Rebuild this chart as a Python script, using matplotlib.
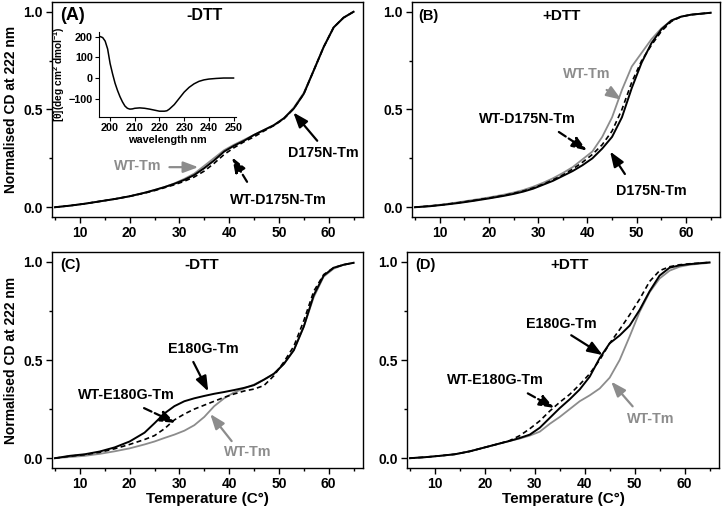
import numpy as np
import matplotlib
matplotlib.use('Agg')
import matplotlib.pyplot as plt
from matplotlib.ticker import MultipleLocator

plt.rcParams['font.family'] = ['Liberation Sans', 'DejaVu Sans']
plt.rcParams['font.weight'] = 'bold'
plt.rcParams['mathtext.fontset'] = 'custom'
plt.rcParams['mathtext.rm'] = 'Liberation Sans:bold'
plt.rcParams['mathtext.it'] = 'Liberation Sans'
plt.rcParams['mathtext.bf'] = 'Liberation Sans:bold'

GRAY = '#8c8c8c'

# temperature grid (C)
temp = [5, 8, 11, 14, 17, 20, 23, 25, 27, 29, 31, 33, 35, 37, 39, 41, 43, 45,
        47, 49, 51, 53, 55, 57, 59, 61, 63, 65]

# (A) -DTT
a_d175n = [0.0, 0.008, 0.018, 0.03, 0.042, 0.056, 0.074, 0.088, 0.103, 0.12, 0.14, 0.165,
           0.2, 0.24, 0.285, 0.315, 0.34, 0.37, 0.395, 0.42, 0.455, 0.505, 0.58, 0.7,
           0.82, 0.92, 0.97, 1.0]
a_wt = [0.0, 0.008, 0.018, 0.03, 0.042, 0.056, 0.074, 0.088, 0.103, 0.122, 0.145, 0.172,
        0.212, 0.252, 0.292, 0.32, 0.345, 0.37, 0.395, 0.42, 0.455, 0.51, 0.585, 0.7,
        0.82, 0.92, 0.97, 1.0]
a_mix = [0.0, 0.008, 0.018, 0.03, 0.042, 0.056, 0.072, 0.085, 0.1, 0.115, 0.133, 0.155,
         0.185, 0.225, 0.27, 0.305, 0.335, 0.36, 0.39, 0.418, 0.452, 0.505, 0.58, 0.7,
         0.82, 0.92, 0.97, 1.0]

# (B) +DTT
b_d175n = [0.0, 0.005, 0.013, 0.022, 0.033, 0.045, 0.058, 0.068, 0.08, 0.095, 0.115, 0.135,
           0.16, 0.185, 0.215, 0.25, 0.3, 0.36, 0.46, 0.61, 0.74, 0.84, 0.91, 0.955,
           0.975, 0.985, 0.99, 0.995]
b_wt = [0.0, 0.007, 0.015, 0.026, 0.038, 0.05, 0.064, 0.075, 0.088, 0.105, 0.125, 0.148,
        0.175, 0.205, 0.245, 0.285, 0.36, 0.46, 0.6, 0.72, 0.79, 0.86, 0.915, 0.955,
        0.975, 0.985, 0.99, 0.995]
b_mix = [0.0, 0.006, 0.014, 0.024, 0.035, 0.047, 0.06, 0.071, 0.083, 0.099, 0.118, 0.14,
         0.165, 0.195, 0.23, 0.27, 0.32, 0.39, 0.5, 0.64, 0.75, 0.83, 0.9, 0.95,
         0.975, 0.985, 0.99, 0.995]

# (C) -DTT
c_e180g = [0.0, 0.012, 0.02, 0.034, 0.055, 0.085, 0.13, 0.178, 0.228, 0.265, 0.29, 0.305,
           0.317, 0.328, 0.337, 0.347, 0.358, 0.372, 0.4, 0.43, 0.48, 0.55, 0.67, 0.83,
           0.93, 0.97, 0.985, 0.995]
c_wt = [0.0, 0.006, 0.012, 0.022, 0.035, 0.05, 0.07, 0.085, 0.103, 0.12, 0.14, 0.168,
        0.21, 0.265, 0.305, 0.335, 0.355, 0.375, 0.4, 0.43, 0.48, 0.55, 0.67, 0.82,
        0.925, 0.965, 0.985, 0.995]
c_mix = [0.0, 0.01, 0.018, 0.03, 0.048, 0.07, 0.095, 0.115, 0.15, 0.195, 0.225, 0.25,
         0.27, 0.29, 0.31, 0.327, 0.342, 0.352, 0.37, 0.42, 0.49, 0.57, 0.7, 0.85,
         0.935, 0.97, 0.985, 0.995]

# (D) +DTT
d_e180g = [0.0, 0.005, 0.012, 0.02, 0.035, 0.055, 0.075, 0.088, 0.103, 0.12, 0.155, 0.205,
           0.255, 0.3, 0.35, 0.415, 0.51, 0.585, 0.625, 0.675, 0.755, 0.85, 0.93, 0.97,
           0.982, 0.988, 0.993, 0.997]
d_wt = [0.0, 0.005, 0.012, 0.02, 0.035, 0.055, 0.075, 0.088, 0.1, 0.115, 0.135, 0.175,
        0.21, 0.25, 0.29, 0.32, 0.355, 0.41, 0.5, 0.62, 0.745, 0.845, 0.915, 0.955,
        0.975, 0.985, 0.99, 0.995]
d_mix = [0.0, 0.005, 0.012, 0.02, 0.035, 0.055, 0.075, 0.09, 0.115, 0.15, 0.19, 0.24,
         0.285, 0.325, 0.375, 0.43, 0.5, 0.585, 0.655, 0.73, 0.81, 0.9, 0.955, 0.975,
         0.985, 0.99, 0.993, 0.997]

# inset: far-UV CD spectrum
wl = [195, 196, 197, 198, 199, 200, 201, 202, 203, 204, 205, 206, 207, 208, 209, 210,
      212, 214, 216, 218, 220, 222, 223, 224, 226, 228, 230, 232, 234, 236, 238, 240,
      243, 246, 250]
theta = [200, 200, 195, 178, 140, 70, 20, -25, -60, -90, -115, -135, -146, -150, -149,
         -146, -144, -146, -150, -155, -160, -160, -158, -150, -128, -98, -68, -45, -28,
         -16, -9, -5, -2, 0, 0]


def style_axes(ax, ylabel=True, xlabel=False):
    ax.set_xlim(4.4, 66.9)
    ax.set_ylim(-0.05, 1.05)
    ax.xaxis.set_major_locator(MultipleLocator(10))
    ax.xaxis.set_minor_locator(MultipleLocator(5))
    ax.yaxis.set_major_locator(MultipleLocator(0.5))
    ax.yaxis.set_minor_locator(MultipleLocator(0.25))
    ax.tick_params(which='major', direction='out', length=4, width=1, labelsize=10, pad=2.5)
    ax.tick_params(which='minor', direction='out', length=2.5, width=1)
    ax.xaxis.set_ticklabels([''] + ['10', '20', '30', '40', '50', '60'] + [''])
    for lab in ax.get_xticklabels() + ax.get_yticklabels():
        lab.set_fontweight('bold')
    for s in ax.spines.values():
        s.set_linewidth(1.0)
    if ylabel:
        ax.set_ylabel('Normalised CD at 222 nm', fontsize=10, fontweight='bold', labelpad=4)
    if xlabel:
        ax.set_xlabel('Temperature (C°)', fontsize=11, fontweight='bold', labelpad=1)


def curves(ax, wt, mut, mix):
    ax.plot(temp, wt, color=GRAY, lw=1.3)
    ax.plot(temp, mut, color='black', lw=1.4)
    ax.plot(temp, mix, color='black', lw=1.2, linestyle=(0, (3, 2)))


def arrow(ax, tail, tip, color='black', dashed=False):
    ax.annotate('', xy=tip, xytext=tail,
                arrowprops=dict(arrowstyle='-|>,head_length=0.75,head_width=0.28',
                                color=color, lw=1.6,
                                linestyle='--' if dashed else '-',
                                mutation_scale=12, shrinkA=0, shrinkB=0))


def label(ax, x, y, s, color='black'):
    ax.text(x, y, s, color=color, fontsize=10.3, fontweight='bold', ha='center', va='center')


fig = plt.figure(figsize=(7.23, 5.11), dpi=100)
W, H = 723.0, 511.0
axA = fig.add_axes([52 / W, 1 - 217 / H, 311 / W, 215 / H])
axB = fig.add_axes([412 / W, 1 - 217 / H, 308 / W, 215 / H])
axC = fig.add_axes([52 / W, 1 - 468 / H, 311 / W, 216 / H])
axD = fig.add_axes([407 / W, 1 - 468 / H, 312 / W, 216 / H])

# (A)
curves(axA, a_wt, a_d175n, a_mix)
style_axes(axA)
axA.text(0.025, 0.935, '(A)', transform=axA.transAxes, fontsize=13, fontweight='bold',
         va='center')
axA.text(0.49, 0.935, '-DTT', transform=axA.transAxes, fontsize=11.5, fontweight='bold',
         ha='center', va='center')
label(axA, 21.7, 0.21, 'WT-Tm', GRAY)
arrow(axA, (28.0, 0.205), (33.8, 0.205), color=GRAY)
label(axA, 49.8, 0.035, 'WT-D175N-Tm')
arrow(axA, (43.6, 0.13), (40.6, 0.255), dashed=True)
label(axA, 58.9, 0.275, 'D175N-Tm')
arrow(axA, (57.7, 0.34), (52.9, 0.485))

# inset
axi = fig.add_axes([99 / W, 1 - 117 / H, 137 / W, 85 / H])
axi.plot(wl, theta, color='black', lw=1.1)
axi.set_xlim(195.5, 251)
axi.set_ylim(-188, 222)
axi.spines['top'].set_visible(False)
axi.spines['right'].set_visible(False)
axi.patch.set_alpha(0)
axi.set_xticks([200, 210, 220, 230, 240, 250])
axi.set_yticks([-100, 0, 100, 200])
axi.tick_params(direction='out', length=3, labelsize=7.8, pad=1.5)
for lab in axi.get_xticklabels() + axi.get_yticklabels():
    lab.set_fontweight('bold')
axi.set_xlabel('wavelength nm', fontsize=7.8, fontweight='bold', labelpad=1)
axi.set_ylabel(r'[$\theta$](deg cm$^2$ dmol$^{-1}$)', fontsize=7.3, fontweight='bold',
               labelpad=1)

# (B)
curves(axB, b_wt, b_d175n, b_mix)
style_axes(axB, ylabel=False)
axB.text(0.02, 0.935, '(B)', transform=axB.transAxes, fontsize=10.5, fontweight='bold',
         va='center')
axB.text(0.487, 0.935, '+DTT', transform=axB.transAxes, fontsize=11, fontweight='bold',
         ha='center', va='center')
label(axB, 39.9, 0.68, 'WT-Tm', GRAY)
arrow(axB, (43.9, 0.60), (46.9, 0.55), color=GRAY)
label(axB, 27.8, 0.45, 'WT-D175N-Tm')
arrow(axB, (34.2, 0.385), (39.9, 0.29), dashed=True)
label(axB, 53.0, 0.085, 'D175N-Tm')
arrow(axB, (47.6, 0.17), (44.6, 0.285))

# (C)
curves(axC, c_wt, c_e180g, c_mix)
style_axes(axC, xlabel=True)
axC.text(0.025, 0.94, '(C)', transform=axC.transAxes, fontsize=10.5, fontweight='bold',
         va='center')
axC.text(0.48, 0.94, '-DTT', transform=axC.transAxes, fontsize=11, fontweight='bold',
         ha='center', va='center')
label(axC, 34.8, 0.558, 'E180G-Tm')
arrow(axC, (32.8, 0.49), (35.8, 0.34))
label(axC, 19.3, 0.323, 'WT-E180G-Tm')
arrow(axC, (22.9, 0.255), (29.2, 0.18), dashed=True)
label(axC, 43.8, 0.029, 'WT-Tm', GRAY)
arrow(axC, (40.5, 0.087), (36.2, 0.225), color=GRAY)

# (D)
curves(axD, d_wt, d_e180g, d_mix)
style_axes(axD, ylabel=False, xlabel=True)
axD.text(0.026, 0.94, '(D)', transform=axD.transAxes, fontsize=10.5, fontweight='bold',
         va='center')
axD.text(0.52, 0.94, '+DTT', transform=axD.transAxes, fontsize=11, fontweight='bold',
         ha='center', va='center')
label(axD, 35.3, 0.685, 'E180G-Tm')
arrow(axD, (37.3, 0.626), (43.6, 0.525))
label(axD, 22.2, 0.40, 'WT-E180G-Tm')
arrow(axD, (28.6, 0.33), (33.9, 0.256), dashed=True)
label(axD, 53.3, 0.197, 'WT-Tm', GRAY)
arrow(axD, (49.6, 0.264), (45.3, 0.39), color=GRAY)

plt.savefig('out.png', dpi=100)
